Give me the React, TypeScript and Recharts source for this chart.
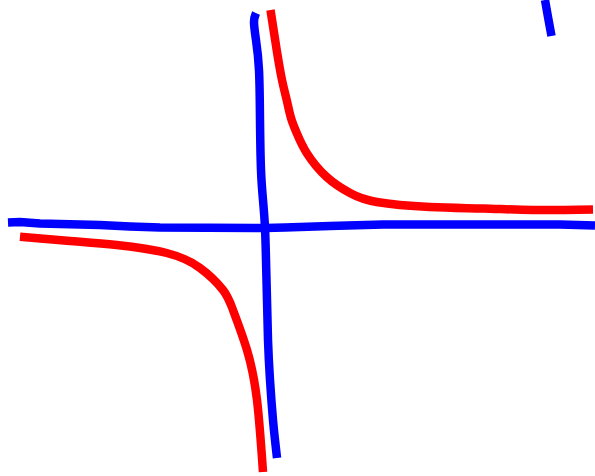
import React from "react";
import { LineChart, Line, XAxis, YAxis } from "recharts";

// Hand-drawn sketch: positions (x right, y down)
const horizontalAxis = [
  { x: 8, y: 222.5 }, { x: 20, y: 222 }, { x: 40, y: 223.5 }, { x: 100, y: 225 },
  { x: 130, y: 226.5 }, { x: 160, y: 227.5 }, { x: 265, y: 228 }, { x: 285, y: 227.5 },
  { x: 330, y: 226 }, { x: 383, y: 224.5 }, { x: 500, y: 224.5 }, { x: 560, y: 224.5 },
  { x: 595, y: 225.5 },
];

const verticalAxis = [
  { x: 256, y: 13 }, { x: 254, y: 22 }, { x: 256, y: 40 }, { x: 259, y: 70 },
  { x: 260, y: 120 }, { x: 261, y: 170 }, { x: 263, y: 200 }, { x: 265, y: 228 },
  { x: 266, y: 260 }, { x: 267, y: 300 }, { x: 268, y: 340 }, { x: 270, y: 380 },
  { x: 273, y: 420 }, { x: 275, y: 440 }, { x: 277, y: 458 },
];

const upperBranch = [
  { x: 270.5, y: 10 }, { x: 276.7, y: 50 }, { x: 282, y: 80 }, { x: 286.7, y: 100 },
  { x: 291, y: 118 }, { x: 296.7, y: 133 }, { x: 306.7, y: 153 }, { x: 326.7, y: 177 },
  { x: 350, y: 193 }, { x: 376.7, y: 202 }, { x: 430, y: 207 }, { x: 483, y: 208.5 },
  { x: 533, y: 210 }, { x: 593, y: 209.5 },
];

const lowerBranch = [
  { x: 20, y: 236.7 }, { x: 70, y: 241 }, { x: 116.7, y: 245 }, { x: 166.7, y: 253 },
  { x: 200, y: 268 }, { x: 223, y: 290 }, { x: 233, y: 310 }, { x: 247, y: 350 },
  { x: 257, y: 400 }, { x: 263, y: 472 },
];

const cornerStroke = [
  { x: 545, y: 0 }, { x: 548, y: 17 }, { x: 551.5, y: 36 },
];

const BLUE = "#0000ff";
const RED = "#ff0000";
const W = 8.5;

export default function App() {
  return (
    <div style={{ position: "absolute", left: 0, top: 0, width: 595, height: 476, background: "#fff" }}>
      <LineChart width={595} height={476} margin={{ top: 0, right: 0, bottom: 0, left: 0 }}>
        <XAxis type="number" dataKey="x" domain={[0, 595]} allowDataOverflow hide />
        <YAxis type="number" dataKey="y" domain={[0, 476]} reversed allowDataOverflow hide />
        <Line data={lowerBranch} dataKey="y" type="natural" stroke={RED} strokeWidth={W} dot={false} activeDot={false} strokeLinejoin="round" isAnimationActive={false} />
        <Line data={upperBranch} dataKey="y" type="natural" stroke={RED} strokeWidth={W} dot={false} activeDot={false} strokeLinejoin="round" isAnimationActive={false} />
        <Line data={verticalAxis} dataKey="y" type="natural" stroke={BLUE} strokeWidth={W} dot={false} activeDot={false} strokeLinejoin="round" isAnimationActive={false} />
        <Line data={horizontalAxis} dataKey="y" type="linear" stroke={BLUE} strokeWidth={W} dot={false} activeDot={false} strokeLinejoin="round" isAnimationActive={false} />
        <Line data={cornerStroke} dataKey="y" type="natural" stroke={BLUE} strokeWidth={W} dot={false} activeDot={false} strokeLinejoin="round" isAnimationActive={false} />
      </LineChart>
    </div>
  );
}
